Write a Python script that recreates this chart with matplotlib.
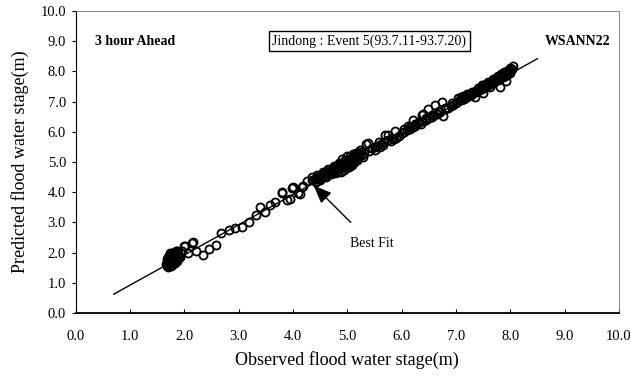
import matplotlib
matplotlib.use("Agg")
import matplotlib.pyplot as plt

plt.rcParams["font.family"] = ["Liberation Serif", "DejaVu Serif"]

# observed / predicted water stage (m)
observed = [
    # low-stage cluster
    1.68, 1.70, 1.72, 1.69, 1.71, 1.73, 1.70, 1.72, 1.74, 1.71, 1.73, 1.75, 1.74, 1.76,
    1.78, 1.77, 1.80, 1.82, 1.79, 1.81, 1.83, 1.76, 1.78, 1.80, 1.84, 1.86, 1.85, 1.88,
    1.90, 1.75, 1.70, 1.67, 1.69, 1.82,
    1.68, 1.68, 1.68, 1.70, 1.70, 1.72, 1.72, 1.72, 1.74, 1.74, 1.74, 1.74, 1.76, 1.76,
    1.76, 1.78, 1.78, 1.78, 1.80, 1.80, 1.80, 1.82, 1.82, 1.84, 1.84, 1.86, 1.86, 1.88,
    1.70, 1.73,
    # rising limb
    1.92, 1.95, 2.00, 2.01, 2.07, 2.14, 2.15, 2.22, 2.34, 2.46, 2.58,
    2.68, 2.82, 2.94, 3.06, 3.19, 3.31, 3.39, 3.49, 3.58, 3.67, 3.79, 3.80, 3.89, 3.95,
    4.00, 3.98, 4.10, 4.13, 4.16, 4.19, 4.25, 4.35,
    # dense band 4.4 - 5.3
    4.35, 4.40, 4.45, 4.50, 4.55, 4.60, 4.65, 4.70, 4.75, 4.80, 4.85, 4.90, 4.95, 5.00,
    5.05, 5.10, 5.15, 5.20, 4.80, 4.85, 4.90, 4.95, 5.00, 5.05, 5.00, 4.90, 5.10, 5.20,
    4.60, 4.70, 4.50, 4.42, 4.88, 4.93, 5.02, 5.08, 5.12, 5.18, 5.24,
    4.42, 4.47, 4.52, 4.57, 4.62, 4.67, 4.72, 4.77, 4.82, 4.87, 4.92, 4.97, 5.02, 5.07,
    5.12, 5.17, 5.22, 5.27, 4.45, 4.55, 4.65, 4.75, 4.85, 4.95, 5.05, 5.15, 5.25, 4.98,
    5.03, 5.08, 4.83, 4.78, 5.13, 5.18, 5.30, 5.28,
    # upper section
    5.35, 5.38, 5.40, 5.45, 5.50, 5.59, 5.60, 5.65, 5.70, 5.75, 5.80, 5.85, 5.88, 5.90,
    5.95, 6.00, 6.05, 6.10, 6.12, 6.15, 6.20, 6.21, 6.25, 6.30, 6.35, 6.37, 6.40, 6.40,
    6.45, 6.49, 6.50, 6.55, 6.60, 6.62, 6.65, 6.70, 6.74, 6.76, 6.80, 6.85, 6.90, 6.95,
    5.50, 5.55, 5.62, 5.68, 5.75, 5.82, 6.05, 6.15, 6.25, 6.32, 6.45, 6.55, 6.68, 6.80,
    6.92,
    7.00, 7.04, 7.10, 7.13, 7.15, 7.20, 7.25, 7.30, 7.35, 7.40, 7.45, 7.49, 7.50, 7.55,
    7.60, 7.63, 7.65, 7.70, 7.75, 7.80, 7.81, 7.85, 7.90, 7.92, 7.95, 8.00, 8.00, 8.05,
    8.02, 7.97, 7.90, 7.85, 7.75, 7.70, 7.60, 7.50, 7.40, 7.30, 7.20, 7.10,
    7.02, 7.07, 7.12, 7.17, 7.22, 7.27, 7.32, 7.37, 7.42, 7.47, 7.52, 7.57, 7.62, 7.67,
    7.72, 7.77, 7.82, 7.87, 7.92, 7.97, 8.03, 7.98, 7.93, 7.88, 7.83, 7.78, 7.68, 7.58,
    7.48,
]
predicted = [
    1.55, 1.60, 1.58, 1.65, 1.70, 1.68, 1.75, 1.80, 1.76, 1.85, 1.88, 1.84, 1.92, 1.95,
    1.90, 2.00, 1.98, 2.02, 1.85, 1.80, 1.88, 1.62, 1.70, 1.72, 1.95, 2.05, 1.78, 1.92,
    1.85, 1.55, 1.52, 1.62, 1.78, 1.65,
    1.60, 1.70, 1.80, 1.68, 1.85, 1.63, 1.73, 1.90, 1.60, 1.70, 1.82, 2.00, 1.68, 1.78,
    1.88, 1.60, 1.80, 1.96, 1.65, 1.85, 1.92, 1.75, 1.95, 1.82, 2.05, 1.88, 1.72, 2.00,
    1.58, 1.95,
    1.86, 2.05, 2.22, 2.20, 1.97, 2.33, 2.36, 2.05, 1.93, 2.12, 2.24,
    2.64, 2.75, 2.81, 2.86, 3.00, 3.23, 3.50, 3.33, 3.58, 3.66, 3.98, 4.00, 3.74, 3.77,
    4.16, 4.14, 3.97, 3.94, 4.18, 4.20, 4.36, 4.50,
    4.40, 4.45, 4.50, 4.55, 4.60, 4.65, 4.70, 4.72, 4.80, 4.85, 4.90, 4.95, 5.00, 5.05,
    5.10, 5.12, 5.18, 5.20, 4.75, 4.78, 4.82, 4.85, 4.90, 4.95, 5.20, 5.10, 5.25, 5.30,
    4.50, 4.60, 4.40, 4.32, 4.68, 4.72, 4.85, 4.90, 5.00, 5.08, 5.38,
    4.38, 4.45, 4.48, 4.55, 4.58, 4.62, 4.68, 4.70, 4.78, 4.82, 4.88, 4.92, 4.98, 5.02,
    5.08, 5.12, 5.18, 5.22, 4.58, 4.68, 4.78, 4.88, 4.98, 5.08, 5.18, 5.28, 5.32, 4.80,
    4.82, 4.92, 4.68, 4.62, 5.00, 5.05, 5.30, 5.15,
    5.60, 5.63, 5.35, 5.45, 5.40, 5.66, 5.50, 5.55, 5.89, 5.88, 5.70, 5.75, 6.03, 5.80,
    5.85, 5.95, 6.00, 6.05, 6.19, 6.10, 6.15, 6.40, 6.20, 6.30, 6.25, 6.56, 6.59, 6.35,
    6.40, 6.75, 6.45, 6.50, 6.55, 6.90, 6.60, 6.65, 6.98, 6.52, 6.75, 6.80, 6.85, 6.90,
    5.50, 5.52, 5.60, 5.65, 5.72, 5.78, 6.08, 6.15, 6.25, 6.33, 6.45, 6.55, 6.70, 6.80,
    6.95,
    6.95, 7.12, 7.05, 7.18, 7.10, 7.15, 7.20, 7.25, 7.16, 7.35, 7.40, 7.28, 7.45, 7.50,
    7.55, 7.49, 7.60, 7.65, 7.70, 7.75, 7.49, 7.80, 7.85, 7.69, 7.90, 7.95, 8.11, 8.16,
    8.05, 8.00, 7.95, 7.92, 7.80, 7.72, 7.62, 7.55, 7.45, 7.33, 7.25, 7.15,
    7.00, 7.05, 7.10, 7.15, 7.20, 7.22, 7.30, 7.32, 7.40, 7.42, 7.50, 7.52, 7.60, 7.62,
    7.70, 7.72, 7.80, 7.82, 7.90, 7.95, 8.08, 8.06, 8.02, 7.98, 7.90, 7.85, 7.75, 7.65,
    7.55,
]

fit_x = [0.7, 8.5]
fit_y = [0.62, 8.42]

x_ticks = [0, 1, 2, 3, 4, 5, 6, 7, 8, 9, 10]
y_ticks = [0, 1, 2, 3, 4, 5, 6, 7, 8, 9, 10]

fig = plt.figure(figsize=(6.31, 3.77), dpi=100)
ax = fig.add_axes([0.12, 0.17, 0.861, 0.801])

ax.plot(fit_x, fit_y, color="black", lw=1.0, zorder=1)
# hollow markers, so overlapping points pile up dark like the scan
ax.plot(observed, predicted, "o", mfc="none", mec="black", ms=5.8, mew=1.3,
        linestyle="none", zorder=2)

ax.set_xlim(0, 10)
ax.set_ylim(0, 10)
ax.set_xticks(x_ticks)
ax.set_yticks(y_ticks)
ax.set_xticklabels(["%.1f" % v for v in x_ticks], fontsize=10.5)
ax.set_yticklabels(["%.1f" % v for v in y_ticks], fontsize=10.5)
ax.tick_params(axis="x", direction="in", length=3, width=0.8, pad=12)
ax.tick_params(axis="y", direction="out", length=3, width=0.8, pad=4)

ax.set_xlabel("Observed flood water stage(m)", fontsize=13, labelpad=6)
ax.set_ylabel("Predicted flood water stage(m)", fontsize=13, labelpad=8)

for s in ["top", "right"]:
    ax.spines[s].set_color("0.45")
    ax.spines[s].set_linewidth(0.6)
    ax.spines[s].set_linestyle((0, (1, 1)))
ax.spines["left"].set_linewidth(0.8)
ax.spines["bottom"].set_linewidth(1.3)

ax.text(0.35, 9.0, "3 hour Ahead", fontsize=10, fontweight="bold", va="center")
ax.text(9.85, 9.0, "WSANN22", fontsize=10, fontweight="bold", va="center", ha="right")
ax.text(5.4, 9.0, "Jindong : Event 5(93.7.11-93.7.20)", fontsize=10, va="center", ha="center",
        bbox=dict(boxstyle="square,pad=0.25", fc="white", ec="black", lw=1.0))

ax.annotate("Best Fit", xy=(4.38, 4.22), xytext=(5.05, 2.3), fontsize=10, va="center",
            arrowprops=dict(arrowstyle="-|>,head_length=1.1,head_width=0.45",
                            color="black", lw=1.0, shrinkA=12, shrinkB=0))

fig.savefig("out.png", dpi=100)
